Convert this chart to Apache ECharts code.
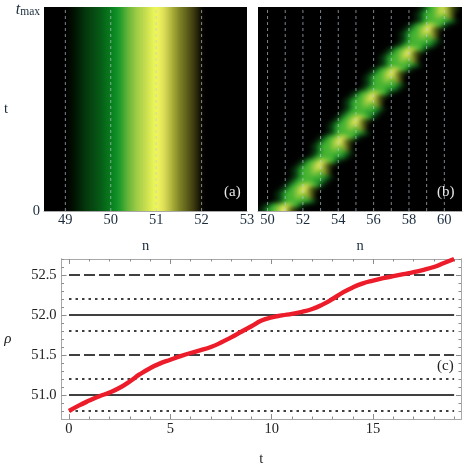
<!DOCTYPE html>
<html>
<head>
<meta charset="utf-8">
<script src="https://cdn.jsdelivr.net/npm/echarts@6/dist/echarts.min.js"></script>
<style>
  html, body { margin: 0; padding: 0; background: #fff; }
  #page { position: relative; width: 463px; height: 469px; overflow: hidden; }
  #main { position: absolute; left: 0; top: 0; width: 463px; height: 469px; }
  .panel { position: absolute; top: 7px; height: 204px; background: #000; overflow: hidden; }
  .field { position: absolute; left: -8px; top: -8px; height: 220px; filter: blur(2px); }
</style>
</head>
<body>
<div id="page">
  <div class="panel" style="left:44px;width:203px"><div id="fieldA" class="field" style="width:219px"></div></div>
  <div class="panel" style="left:258px;width:204px"><div id="fieldB" class="field" style="width:220px"></div></div>
  <div id="main"></div>
</div>
<script>
// panel (a): colour channels of the vertical stripes, one value per site step from 48.5 to 53
const stripeN = [48.5,48.6,48.7,48.8,48.9,49,49.1,49.2,49.3,49.4,49.5,49.6,49.7,49.8,49.9,50,50.1,50.2,50.3,50.4,50.5,50.6,50.7,50.8,50.9,51,51.1,51.2,51.3,51.4,51.5,51.6,51.7,51.8,51.9,52,52.1,52.2,52.3,52.4,52.5,52.6,52.7,52.8,52.9,53]
const stripeRed = [0,0,0,0,0,0,0,0,2,4,5,6,6,6,8,8,12,30,70,110,140,165,185,205,225,240,232,215,185,160,130,110,90,68,42,10,0,0,0,0,0,0,0,0,0,0]
const stripeGreen = [0,0,0,0,0,0,8,20,34,50,62,72,82,95,110,125,140,155,170,185,195,208,215,225,240,248,235,215,190,165,135,112,90,66,40,7,0,0,0,0,0,0,0,0,0,0]
const stripeBlue = [0,0,0,0,0,0,0,2,6,10,14,18,20,24,26,30,36,45,50,60,65,72,78,80,85,90,90,85,68,50,40,32,25,18,10,2,0,0,0,0,0,0,0,0,0,0]

// panel (b): the travelling band, row by row from t max down: [first column, levels]
const bandRows = [
  [40,'1245677qop'],[39,'12455677qo'],[39,'12455665qo'],[39,'12455555431'],
  [37,'12456776531'],[36,'1245678qop'],[35,'12455677qo'],[35,'12455665qo'],[35,'12455555431'],[34,'12455554431'],
  [32,'12456776531'],[31,'1245678qop'],[30,'12455677qo'],[30,'12455665qo'],[30,'12455555431'],
  [28,'12456776531'],[27,'1245678qop'],[26,'12455677qo'],[26,'12455665qo'],[26,'12455555431'],[25,'12455554431'],
  [23,'12456776531'],[22,'1245678qop'],[21,'12455677qo'],[21,'12455665qo'],[21,'12455555431'],[20,'12455554431'],
  [19,'12456776531'],[18,'1245678qop'],[17,'12455677qo'],[17,'12455665qo'],[17,'12455555431'],
  [15,'12456776531'],[14,'1245678qop'],[13,'12455677qo'],[13,'12455665qo'],[13,'12455555431'],[12,'12455554431'],
  [10,'12456776531'],[9,'1245678qop'],[8,'12455677qo'],[8,'12455665qo'],[8,'12455555431'],[7,'12455554431'],
  [6,'12456776531'],[5,'1245678qop'],[4,'12455677qo'],[4,'12455665qo'],[4,'12455555431'],
  [1,'12456776531'],[0,'1245678qop']
]
const bandColumns = 51
const bandLevels = {
  1: [6,28,8], 2: [11,62,18], 3: [17,100,28], 4: [30,145,40], 5: [70,180,50],
  6: [125,195,60], 7: [190,215,70], 8: [240,240,120], q: [150,165,50], o: [70,85,18], p: [28,40,8]
}

// panel (c): density centre against time
const timeValues = [0,0.5,1,1.5,2,2.5,3,3.5,4,4.5,5,5.5,6,6.5,7,7.5,8,8.5,9,9.5,10,10.5,11,11.5,12,12.5,13,13.5,14,14.5,15,15.5,16,16.5,17,17.5,18,18.5,19]
const rhoValues = [50.8,50.87,50.93,50.985,51.03,51.09,51.17,51.26,51.335,51.395,51.44,51.485,51.525,51.56,51.6,51.655,51.72,51.79,51.86,51.93,51.97,51.995,52.015,52.04,52.075,52.13,52.2,52.28,52.345,52.395,52.43,52.46,52.485,52.51,52.535,52.565,52.6,52.65,52.7]
const solidLevels = [51, 52]
const dashedLevels = [51.5, 52.5]
const dottedLevels = [50.8, 51.2, 51.8, 52.2]

// tick labels
const ticksA = [49, 50, 51, 52, 53]
const sitesA = [49, 50, 51, 52]
const ticksB = [50, 52, 54, 56, 58, 60]
const sitesB = [50, 51, 52, 53, 54, 55, 56, 57, 58, 59, 60]
const ticksTime = [0, 5, 10, 15]
const minorTime = [1,2,3,4,6,7,8,9,11,12,13,14,16,17,18,19]
const ticksRho = [51, 51.5, 52, 52.5]
const minorRho = [50.8,50.9,51.1,51.2,51.3,51.4,51.6,51.7,51.8,51.9,52.1,52.2,52.3,52.4,52.6,52.7]

const rangeA = [48.53, 53]
const rangeB = [49.46, 61]
const rangeTime = [-0.37, 19.34]
const rangeRho = [50.7, 52.7]

const serif = '"Liberation Serif", "Times New Roman", serif'
const labelInk = '#1a2c3c'

// one full-bleed grid of coloured cells, blurred by css afterwards
const initField = (id, xRange, yRange, cells) => {
  const chart = echarts.init(document.getElementById(id))
  chart.setOption({
    animation: false,
    backgroundColor: '#000',
    grid: { left: 0, right: 0, top: 0, bottom: 0 },
    xAxis: { type: 'value', min: xRange[0], max: xRange[1], show: false },
    yAxis: { type: 'value', min: yRange[0], max: yRange[1], show: false },
    series: [{
      type: 'custom',
      clip: true,
      silent: true,
      encode: { x: 0, y: 1 },
      data: cells,
      renderItem: (params, api) => {
        const c = api.coord([api.value(0), api.value(1)])
        const s = api.size([api.value(5), api.value(6)])
        return {
          type: 'rect',
          shape: { x: c[0] - s[0] / 2, y: c[1] - s[1] / 2, width: s[0] + 0.6, height: s[1] + 0.6 },
          style: { fill: `rgb(${api.value(2)},${api.value(3)},${api.value(4)})` }
        }
      }
    }]
  })
}

// (a) 8px of bleed on each side so the blur never shows the panel edge
const padA = (rangeA[1] - rangeA[0]) * 8 / 203
initField('fieldA', [rangeA[0] - padA, rangeA[1] + padA], [0, 1],
  stripeN.map((n, i) => [n, 0.5, stripeRed[i], stripeGreen[i], stripeBlue[i], 0.1, 1]))

// (b)
const cellB = (rangeB[1] - rangeB[0]) / bandColumns
const padB = (rangeB[1] - rangeB[0]) * 8 / 204
const cellsB = []
for (let j = -2; j < bandRows.length + 2; j++) {
  const row = bandRows[Math.max(0, Math.min(bandRows.length - 1, j))]
  const t = bandRows.length - j - 0.5
  row[1].split('').forEach((level, k) => {
    const rgb = bandLevels[level]
    cellsB.push([rangeB[0] + (row[0] + k + 0.5) * cellB, t, rgb[0], rgb[1], rgb[2], cellB, 1])
  })
}
initField('fieldB', [rangeB[0] - padB, rangeB[1] + padB], [-2, bandRows.length + 2], cellsB)

// axes, grid lines and panel (c) sit on a transparent chart above the fields
const chart = echarts.init(document.getElementById('main'))

const frameAxis = (gridIndex, position, range, values, extra) => Object.assign({
  type: 'value',
  gridIndex,
  position,
  min: range[0],
  max: range[1],
  axisLine: { onZero: false, lineStyle: { color: '#a8a8a8', width: 1 } },
  axisTick: { inside: true, length: 5, lineStyle: { color: '#8c8c8c' }, customValues: values },
  axisLabel: { show: false, customValues: values },
  splitLine: { show: false }
}, extra)

const tickText = { show: true, fontFamily: serif, fontSize: 14.5, color: '#222' }
const inkText = { show: true, fontFamily: serif, fontSize: 14.5, color: labelInk, margin: 2 }

const levelSeries = (levels, type) => levels.map(v => ({
  type: 'line',
  xAxisIndex: 2,
  yAxisIndex: 2,
  symbol: 'none',
  silent: true,
  lineStyle: { color: '#000', width: 1.5, type },
  data: [[0, v], [19, v]]
}))

const siteSeries = (sites, axisIndex) => sites.map(n => ({
  type: 'line',
  xAxisIndex: axisIndex,
  yAxisIndex: axisIndex,
  symbol: 'none',
  silent: true,
  lineStyle: { color: 'rgba(190,205,218,0.65)', width: 1, type: [3, 3] },
  data: [[n, 0], [n, 1]]
}))

const option = {
  animation: false,
  grid: [
    { left: 44, top: 7, width: 203, height: 204 },
    { left: 258, top: 7, width: 204, height: 204 },
    { left: 61.5, top: 259, width: 399.5, height: 160 },
    { left: 61.5, top: 259, width: 399.5, height: 160 }
  ],
  xAxis: [
    frameAxis(0, 'bottom', rangeA, ticksA, {
      axisTick: { show: false }, axisLabel: { ...inkText, customValues: ticksA },
      name: 'n', nameLocation: 'middle', nameGap: 28, nameTextStyle: { fontFamily: serif, fontSize: 14.5, color: labelInk }
    }),
    frameAxis(1, 'bottom', rangeB, ticksB, {
      axisTick: { show: false }, axisLabel: { ...inkText, customValues: ticksB },
      name: 'n', nameLocation: 'middle', nameGap: 28, nameTextStyle: { fontFamily: serif, fontSize: 14.5, color: labelInk }
    }),
    frameAxis(2, 'bottom', rangeTime, ticksTime, {
      axisLabel: { ...tickText, margin: 3, customValues: ticksTime },
      name: 't', nameLocation: 'middle', nameGap: 33, nameTextStyle: { fontFamily: serif, fontSize: 14.5, color: '#222' }
    }),
    frameAxis(3, 'bottom', rangeTime, minorTime, { axisTick: { inside: true, length: 2.5, lineStyle: { color: '#8c8c8c' }, customValues: minorTime } }),
    frameAxis(2, 'top', rangeTime, ticksTime, {}),
    frameAxis(3, 'top', rangeTime, minorTime, { axisTick: { inside: true, length: 2.5, lineStyle: { color: '#8c8c8c' }, customValues: minorTime } })
  ],
  yAxis: [
    {
      type: 'value', gridIndex: 0, min: 0, max: 1,
      axisLine: { show: false },
      axisTick: { show: false },
      splitLine: { show: false },
      axisLabel: {
        margin: 4, fontFamily: serif, fontSize: 14.5, color: labelInk, customValues: [0, 1],
        formatter: v => (v === 1 ? '{t|t}{m|max}' : '0'),
        rich: {
          t: { fontFamily: serif, fontStyle: 'italic', fontSize: 16, color: labelInk, padding: [6, 0, 0, 0] },
          m: { fontFamily: serif, fontSize: 11.5, color: labelInk, verticalAlign: 'bottom', padding: [9, 0, 0, 0] }
        }
      },
      name: 't', nameLocation: 'middle', nameRotate: 0, nameGap: 36,
      nameTextStyle: { fontFamily: serif, fontSize: 14.5, color: labelInk }
    },
    { type: 'value', gridIndex: 1, min: 0, max: 1, show: false },
    frameAxis(2, 'left', rangeRho, ticksRho, {
      axisLabel: { ...tickText, margin: 5, customValues: ticksRho, formatter: v => v.toFixed(1) },
      name: 'ρ', nameLocation: 'middle', nameRotate: 0, nameGap: 50,
      nameTextStyle: { fontFamily: serif, fontStyle: 'italic', fontSize: 15, color: '#222' }
    }),
    frameAxis(3, 'left', rangeRho, minorRho, { axisTick: { inside: true, length: 2.5, lineStyle: { color: '#8c8c8c' }, customValues: minorRho } }),
    frameAxis(2, 'right', rangeRho, ticksRho, {}),
    frameAxis(3, 'right', rangeRho, minorRho, { axisTick: { inside: true, length: 2.5, lineStyle: { color: '#8c8c8c' }, customValues: minorRho } })
  ],
  series: [
    ...siteSeries(sitesA, 0),
    ...siteSeries(sitesB, 1),
    ...levelSeries(solidLevels, 'solid'),
    ...levelSeries(dashedLevels, [11, 4]),
    ...levelSeries(dottedLevels, [2.5, 4]),
    {
      type: 'line',
      xAxisIndex: 2,
      yAxisIndex: 2,
      symbol: 'none',
      smooth: true,
      silent: true,
      z: 5,
      lineStyle: { color: '#ec1c2a', width: 4.4 },
      data: timeValues.map((t, i) => [t, rhoValues[i]])
    }
  ],
  graphic: [
    { type: 'text', left: 224, top: 185, style: { text: '(a)', font: '15px ' + serif, fill: '#e8e8e8' } },
    { type: 'text', left: 437, top: 185, style: { text: '(b)', font: '15px ' + serif, fill: '#e8e8e8' } },
    { type: 'text', left: 437, top: 359, style: { text: '(c)', font: '15px ' + serif, fill: '#222' } }
  ]
}
chart.setOption(option)
</script>
</body>
</html>
